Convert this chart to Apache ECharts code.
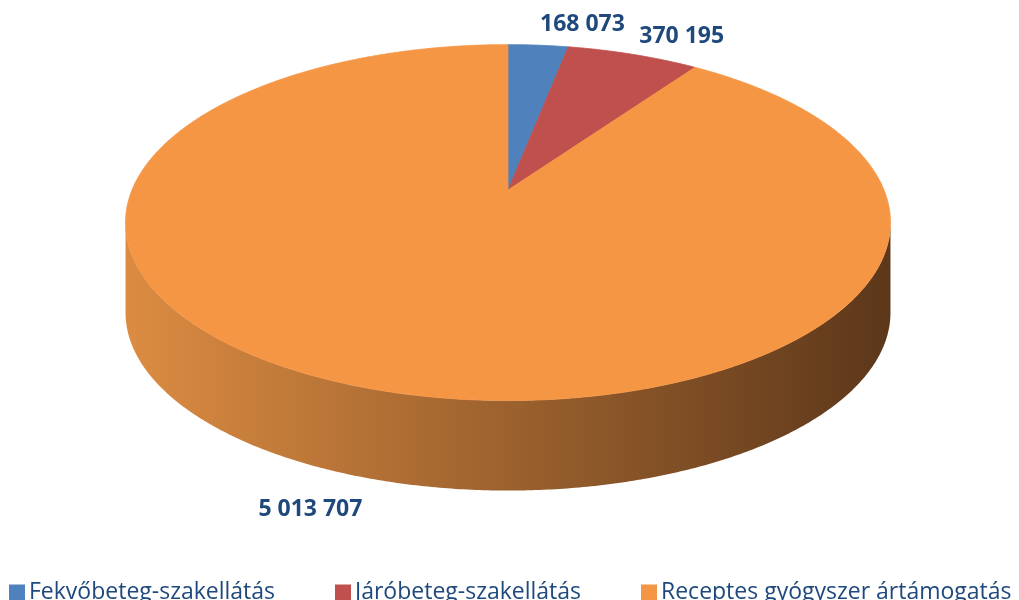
<!DOCTYPE html>
<html>
<head>
<meta charset="utf-8">
<style>
  html, body { margin: 0; padding: 0; background: #fff; }
  #main { width: 1019px; height: 600px; }
</style>
<script src="https://cdn.jsdelivr.net/npm/echarts@6/dist/echarts.min.js"></script>
</head>
<body>
<div id="main"></div>
<script>
// adatok
var categories = ["Fekvőbeteg-szakellátás", "Járóbeteg-szakellátás", "Receptes gyógyszer ártámogatás"];
var values = [168073, 370195, 5013707];
var colors = ["#4f81bd", "#c0504d", "#f59645"];

(function() {
    var myChart = echarts.init(document.getElementById("main"));

    // a "3D" torta geometriája (perspektivikus ellipszis)
    var CX = 508, CY = 190, RX = 376, RY = 172, D = 5.46, H = 90;
    var total = values.reduce(function(s, v) { return s + v; }, 0);

    function project(a, r, drop) {
        var s = Math.sin(a), c = Math.cos(a);
        var f = D / (D + r * c);
        return [CX + RX * r * s * f, CY - RY * r * c * f + (drop ? H : 0)];
    }

    function fmt(v) {
        return String(v).replace(/\B(?=(\d{3})+(?!\d))/g, " ");
    }

    // látható oldalfal szögtartománya
    var wallFrom = Math.PI - Math.acos(1 / D);
    var wallTo = Math.PI + Math.acos(1 / D);

    function makeRender(idx) {
        return function(params, api) {
            var before = 0;
            for (var i = 0; i < idx; i++) before += values[i];
            var a0 = before / total * Math.PI * 2;
            var a1 = (before + api.value(0)) / total * Math.PI * 2;
            var step = Math.PI / 360;
            var children = [];

            // oldalfal
            var w0 = Math.max(a0, wallFrom), w1 = Math.min(a1, wallTo);
            if (w1 > w0) {
                var top = [], bottom = [];
                for (var a = w0; a < w1; a += step) {
                    top.push(project(a, 1, false));
                    bottom.push(project(a, 1, true));
                }
                top.push(project(w1, 1, false));
                bottom.push(project(w1, 1, true));
                children.push({
                    type: "polygon",
                    shape: { points: top.concat(bottom.reverse()) },
                    style: {
                        fill: new echarts.graphic.LinearGradient(0, 0, 1, 0, [
                            { offset: 0, color: "#dc8c42" },
                            { offset: 1, color: "#5c371a" }
                        ]),
                        stroke: null
                    }
                });
            }

            // felső lap
            var pts = [[CX, CY]];
            for (var b = a0; b < a1; b += step) pts.push(project(b, 1, false));
            pts.push(project(a1, 1, false));
            children.push({
                type: "polygon",
                shape: { points: pts },
                style: { fill: colors[idx], stroke: colors[idx], lineWidth: 0.8 }
            });

            // címke
            var m = (a0 + a1) / 2;
            var front = Math.cos(m) < -1 / D;
            var p = project(m, 1, front);
            var dx = p[0] - CX, dy = p[1] - CY;
            var len = Math.sqrt(dx * dx + dy * dy);
            var dist = front ? 21 : 9;
            children.push({
                type: "text",
                style: {
                    text: fmt(api.value(0)),
                    x: p[0] + dx / len * dist,
                    y: p[1] + dy / len * dist,
                    align: dx >= 0 ? "left" : "right",
                    verticalAlign: dy < 0 ? "bottom" : "top",
                    fill: "#1f497d",
                    fontSize: 23,
                    fontWeight: "bold",
                    fontFamily: "Open Sans"
                }
            });
            return { type: "group", children: children };
        };
    }

    var series = categories.map(function(name, i) {
        return {
            name: name,
            type: "custom",
            coordinateSystem: "none",
            itemStyle: { color: colors[i] },
            data: [[values[i]]],
            renderItem: makeRender(i)
        };
    });

    var legendLeft = [4, 330, 636];
    var legend = categories.map(function(name, i) {
        return {
            data: [name],
            left: legendLeft[i],
            top: 576,
            icon: "rect",
            itemWidth: 16,
            itemHeight: 16,
            itemGap: 5,
            selectedMode: false,
            textStyle: { color: "#1f497d", fontSize: 23, fontFamily: "Open Sans", padding: [0, 0, 0, -1] }
        };
    });

    var option = {
        animation: false,
        legend: legend,
        series: series
    };
    myChart.setOption(option);
    window.addEventListener("resize", function() {
        myChart.resize();
    });
})();
</script>
</body>
</html>
